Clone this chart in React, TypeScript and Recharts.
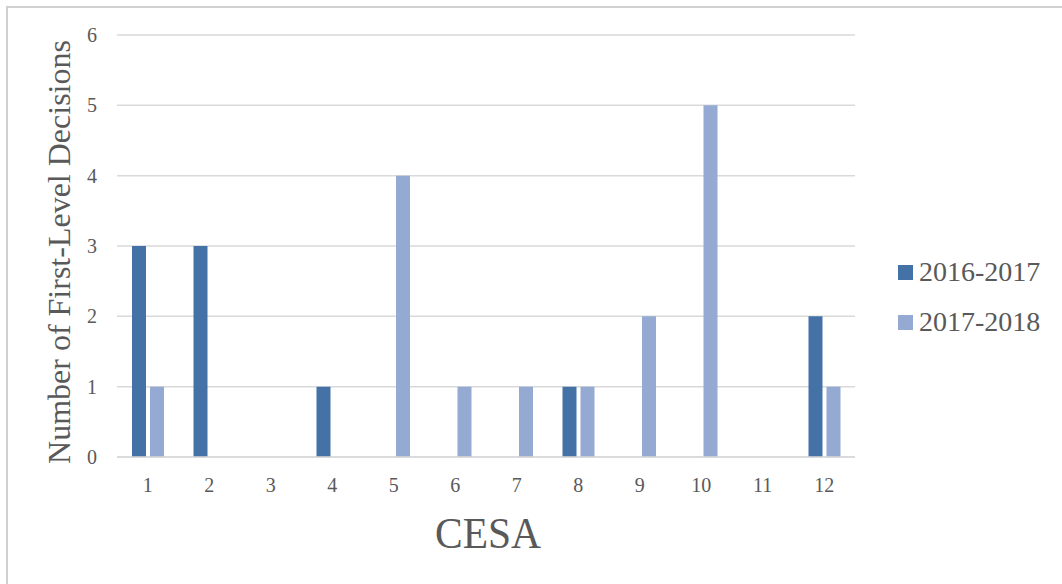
import { BarChart, Bar, XAxis, YAxis, CartesianGrid, Label } from 'recharts';

// CESA regions on the x axis
const cesaRegions = ['1', '2', '3', '4', '5', '6', '7', '8', '9', '10', '11', '12'];
// first-level decisions per region
const decisions2016 = [3, 3, 0, 1, 0, 0, 0, 1, 0, 0, 0, 2];
const decisions2017 = [1, 0, 0, 0, 4, 1, 1, 1, 2, 5, 0, 1];
const yTicks = [0, 1, 2, 3, 4, 5, 6];
const seriesNames = ['2016-2017', '2017-2018'];

const DARK = '#4472a7';
const LIGHT = '#95aad3';
const TEXT = '#595959';
const GRID = '#d9d9d9';
const FRAME = '#d0d0d0';
const FONT = '"Liberation Serif", "Times New Roman", serif';

const chartData = cesaRegions.map((cesa, i) => ({
  cesa,
  a: decisions2016[i],
  b: decisions2017[i],
}));

const YTitle = ({ viewBox }: any) => {
  const cx = 70;
  const cy = viewBox.y + viewBox.height / 2 + 6;
  return (
    <text
      x={cx}
      y={cy}
      transform={`rotate(-90, ${cx}, ${cy})`}
      textAnchor="middle"
      fill={TEXT}
      fontSize={32}
      fontFamily={FONT}
    >
      Number of First-Level Decisions
    </text>
  );
};

const XTitle = ({ viewBox }: any) => {
  const cx = viewBox.x + viewBox.width / 2 + 2;
  return (
    <text
      x={cx}
      y={548}
      textAnchor="middle"
      fill={TEXT}
      fontSize={44}
      fontFamily={FONT}
      textLength={106}
      lengthAdjust="spacingAndGlyphs"
    >
      CESA
    </text>
  );
};

const LegendBox = () => (
  <div style={{ position: 'absolute', left: 898, top: 247, fontFamily: FONT, color: TEXT, fontSize: 28 }}>
    {seriesNames.map((name, i) => (
      <div key={name} style={{ display: 'flex', alignItems: 'center', height: 50 }}>
        <span
          style={{
            display: 'inline-block',
            width: 15,
            height: 15,
            background: i === 0 ? DARK : LIGHT,
            marginRight: 6,
          }}
        />
        <span style={{ lineHeight: '28px' }}>{name}</span>
      </div>
    ))}
  </div>
);

export default function App() {
  return (
    <div style={{ position: 'fixed', left: 0, top: 0, width: 1062, height: 584, background: '#fff', overflow: 'hidden' }}>
      <svg width={1062} height={584} style={{ position: 'absolute', left: 0, top: 0 }}>
        {/* frame of the chart area, only left and top edges are in view */}
        <path d="M7 584 V7 H1062" fill="none" stroke={FRAME} strokeWidth={2} />
      </svg>
      <div style={{ position: 'absolute', left: 0, top: 0 }}>
        <BarChart
          width={1062}
          height={584}
          data={chartData}
          margin={{ top: 35, right: 207, bottom: 0, left: 0 }}
          barSize={14}
          barGap={4}
        >
          <CartesianGrid vertical={false} stroke={GRID} strokeWidth={1.5} />
          <XAxis
            dataKey="cesa"
            height={127}
            axisLine={{ stroke: GRID, strokeWidth: 1.5 }}
            tickLine={false}
            tickMargin={15}
            tick={{ fill: TEXT, fontSize: 20, fontFamily: FONT }}
            interval={0}
          >
            <Label content={<XTitle />} />
          </XAxis>
          <YAxis
            width={117}
            domain={[0, 6]}
            ticks={yTicks}
            axisLine={false}
            tickLine={false}
            tickMargin={14}
            tick={{ fill: TEXT, fontSize: 20, fontFamily: FONT }}
          >
            <Label content={<YTitle />} />
          </YAxis>
          <Bar dataKey="a" name={seriesNames[0]} fill={DARK} isAnimationActive={false} />
          <Bar dataKey="b" name={seriesNames[1]} fill={LIGHT} isAnimationActive={false} />
        </BarChart>
      </div>
      <LegendBox />
    </div>
  );
}
